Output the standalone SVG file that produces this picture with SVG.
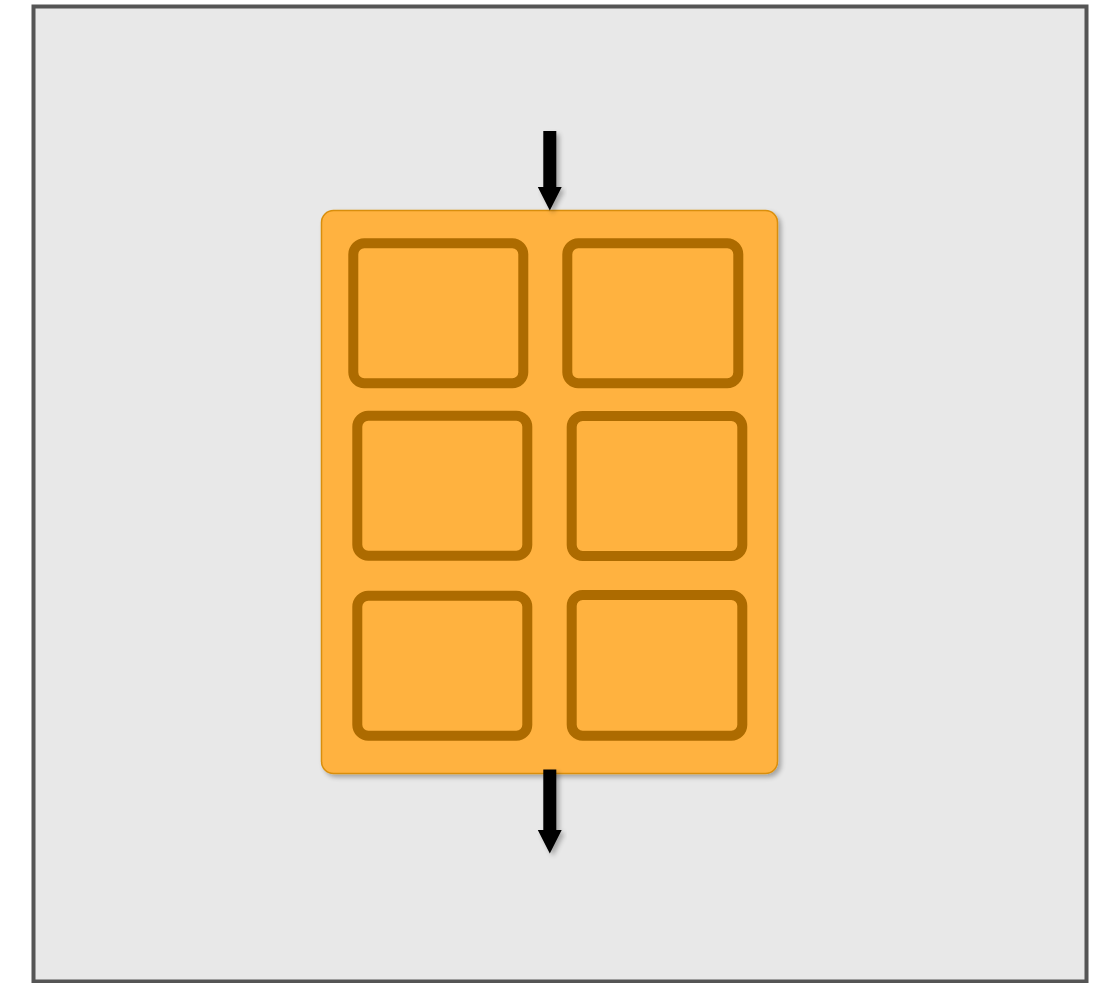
<svg xmlns="http://www.w3.org/2000/svg" width="1100" height="983" viewBox="0 0 1100 983">
<defs>
<filter id="sh" x="-10%" y="-10%" width="130%" height="130%">
<feGaussianBlur in="SourceAlpha" stdDeviation="2.5"/>
<feOffset dx="3" dy="3" result="b"/>
<feComponentTransfer><feFuncA type="linear" slope="0.3"/></feComponentTransfer>
<feMerge><feMergeNode/><feMergeNode in="SourceGraphic"/></feMerge>
</filter>
<style>
.frame{fill:#e8e8e8;stroke:#555555;stroke-width:4}
.cont{fill:#ffb23f;stroke:#d98e0a;stroke-width:1.5}
.cell{fill:#ffb23f;stroke:#ad6b00;stroke-width:10}
.arr{fill:#000000}
</style>
</defs>
<rect x="0" y="0" width="1100" height="983" fill="#ffffff"/>
<rect class="frame" x="33.5" y="6.5" width="1053" height="975"/>
<g id="container" filter="url(#sh)">
<rect class="cont" x="321.5" y="210.5" width="456" height="563" rx="12"/>
</g>
<g id="cell1"><rect class="cell" x="353.3" y="243.3" width="170" height="140" rx="11"/></g>
<g id="cell2"><rect class="cell" x="567.3" y="243.3" width="171" height="140" rx="11"/></g>
<g id="cell3"><rect class="cell" x="357.3" y="415.8" width="170" height="140" rx="11"/></g>
<g id="cell4"><rect class="cell" x="571.7" y="416" width="170.6" height="140" rx="11"/></g>
<g id="cell5"><rect class="cell" x="357.3" y="595.7" width="170" height="140" rx="11"/></g>
<g id="cell6"><rect class="cell" x="571.7" y="595" width="170.6" height="140.7" rx="11"/></g>
<g id="connectors" filter="url(#sh)">
<path class="arr" d="M543.3,131 H556.3 V187 H561.7 L549.8,210.5 L537.8,187 H543.3 Z"/>
<path class="arr" d="M543.3,769.5 H556.3 V830 H561.7 L549.8,853.5 L537.8,830 H543.3 Z"/>
</g>
</svg>
